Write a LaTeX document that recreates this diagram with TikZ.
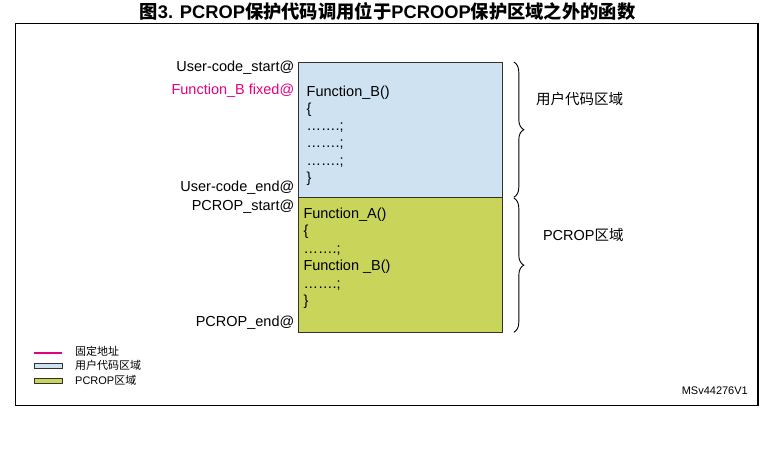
\documentclass[tikz,border=0pt]{standalone}
\usepackage{fontspec}
\setmainfont{Liberation Sans}
\newfontfamily\cjk{Noto Sans CJK SC}
\usetikzlibrary{decorations.pathreplacing,calc}
\definecolor{ublue}{RGB}{207,226,242}
\definecolor{polive}{RGB}{200,212,90}
\definecolor{fixmag}{RGB}{228,0,126}
\definecolor{bord}{RGB}{50,50,50}
\begin{document}
\begin{tikzpicture}[x=1pt,y=-1pt,
  lbl/.style={anchor=base east, inner sep=0pt, font=\fontsize{14.5}{17}\selectfont},
  codeln/.style={anchor=base west, inner sep=0pt, font=\fontsize{14.5}{17}\selectfont},
  region/.style={draw=bord, line width=1.3pt, inner sep=0pt, minimum width=204pt, minimum height=135pt, anchor=north west},
  brc/.style={decorate, decoration={brace, amplitude=10pt, aspect=0.5}, line width=0.9pt},
  sidelbl/.style={inner sep=0pt, font=\fontsize{14.5}{17}\selectfont},
  legtxt/.style={anchor=west, inner sep=0pt, font=\fontsize{11}{13}\selectfont},
  legbox/.style={draw=bord, line width=1pt, minimum width=28pt, minimum height=5pt, inner sep=0pt}]
\useasboundingbox (0,0) rectangle (762,448);
% title
\node[font=\bfseries\fontsize{18.3}{21}\selectfont, inner sep=0pt] (title) at (387.5,11.5)
  {{\cjk 图}3. PCROP{\cjk 保护代码调用位于}PCROOP{\cjk 保护区域之外的函数}};
% frame
\draw[line width=1.3pt] (15.5,23.3) rectangle (758,405.7);
% regions
\node[region, fill=ublue] (ucode) at (298,62) {};
\node[region, fill=polive] (pcrop) at (298,197) {};
% left labels
\node[lbl] (l1) at (294.5,71.2) {User-code\_start@};
\node[lbl, text=fixmag] (l2) at (294.5,94.2) {Function\_B fixed@};
\node[lbl] (l3) at (294.5,191.2) {User-code\_end@};
\node[lbl] (l4) at (294.5,210.2) {PCROP\_start@};
\node[lbl] (l5) at (294.5,326.2) {PCROP\_end@};
% code in user region
\node[codeln] (b1) at (306.5,96) {Function\_B()};
\node[codeln] (b2) at (306.5,113.3) {\{};
\node[codeln] (b3) at (306.5,130.6) {…….;};
\node[codeln] (b4) at (306.5,147.9) {…….;};
\node[codeln] (b5) at (306.5,165.2) {…….;};
\node[codeln] (b6) at (306.5,182.5) {\}};
% code in PCROP region
\node[codeln] (a1) at (303.3,218.5) {Function\_A()};
\node[codeln] (a2) at (303.3,235.9) {\{};
\node[codeln] (a3) at (303.3,253.3) {…….;};
\node[codeln] (a4) at (303.3,270.7) {Function \_B()};
\node[codeln] (a5) at (303.3,288.1) {…….;};
\node[codeln] (a6) at (303.3,305.5) {\}};
% braces
\coordinate (u1) at ($(ucode.north east)+(10.5,0)$);
\coordinate (u2) at ($(ucode.south east)+(10.5,-1)$);
\coordinate (p1) at ($(pcrop.north east)+(10.5,1)$);
\coordinate (p2) at ($(pcrop.south east)+(10.5,-1)$);
\draw[brc] (u1) -- (u2);
\draw[brc] (p1) -- (p2);
\node[sidelbl] (ulbl) at (579.5,99.3) {\cjk 用户代码区域};
\node[sidelbl] (plbl) at (583.3,235) {PCROP{\cjk 区域}};
% legend
\coordinate (m1) at (34,352.7);
\coordinate (m2) at (62.3,352.7);
\draw[fixmag, line width=2pt] (m1) -- (m2);
\node[legbox, fill=ublue] (lb1) at (48.2,365.5) {};
\node[legbox, fill=polive] (lb2) at (48.2,380.8) {};
\node[legtxt] (t1) at (75,351.7) {\cjk 固定地址};
\node[legtxt] (t2) at (75,365.5) {\cjk 用户代码区域};
\node[legtxt] (t3) at (75,380.5) {PCROP{\cjk 区域}};
% id
\node[anchor=east, inner sep=0pt, font=\fontsize{11}{13}\selectfont] (msid) at (748,390.7) {MSv44276V1};
\end{tikzpicture}
\end{document}
